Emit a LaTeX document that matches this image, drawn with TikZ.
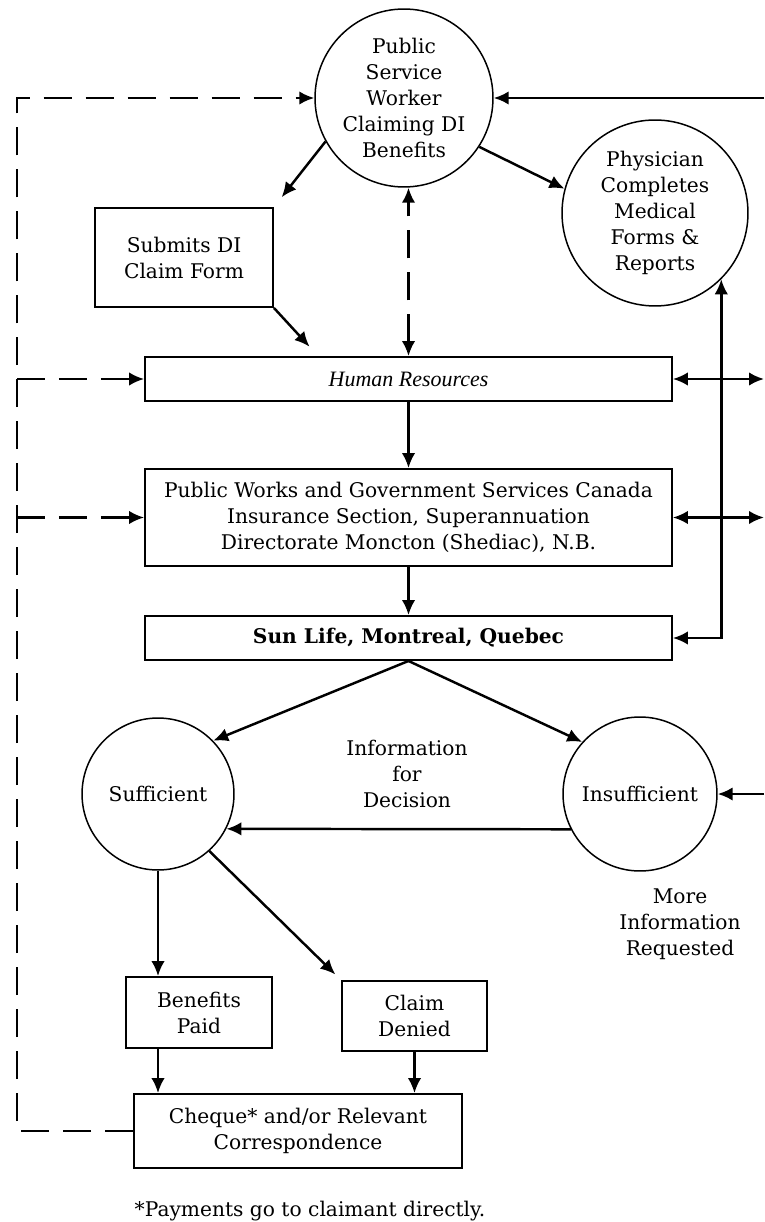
\documentclass[tikz,border=0pt]{standalone}
\usepackage{fontspec}
\setmainfont{DejaVu Serif}
\newfontfamily\hrfont{Liberation Serif}
\usetikzlibrary{arrows.meta}

\begin{document}
\begin{tikzpicture}[x=0.02cm,y=-0.02cm,
  font=\fontsize{11.5pt}{14.8pt}\selectfont,
  box/.style={draw,line width=1.1pt,inner sep=0pt,align=center},
  bubble/.style={draw,circle,line width=0.85pt,inner sep=0pt,align=center},
  flow/.style={line width=1.4pt,-{Latex[length=0.3cm,width=0.27cm]}},
  twoway/.style={line width=1.4pt,{Latex[length=0.3cm,width=0.27cm]}-{Latex[length=0.3cm,width=0.27cm]}},
  feedback/.style={line width=1.4pt,dash pattern=on 0.56cm off 0.28cm}]
\useasboundingbox (0,0) rectangle (764,1222);

% the claimant and the doctor
\node[bubble,minimum size=3.56cm] (worker) at (404,98) {Public\\Service\\Worker\\Claiming DI\\Benefits};
\node[bubble,minimum size=3.72cm] (physician) at (655,213) {Physician\\Completes\\Medical\\Forms \&\\Reports};

% the chain of offices
\node[box,minimum width=3.56cm,minimum height=1.98cm] (submits) at (184,257.5) {Submits DI\\Claim Form};
\node[box,minimum width=10.54cm,minimum height=0.88cm] (hr) at (408.5,379) {{\hrfont\itshape\fontsize{12.5pt}{15pt}\selectfont Human Resources}};
\node[box,minimum width=10.54cm,minimum height=1.94cm] (pwgsc) at (408.5,517.5) {Public Works and Government Services Canada\\Insurance Section, Superannuation\\Directorate Moncton (Shediac), N.B.};
\node[box,minimum width=10.54cm,minimum height=0.88cm] (sunlife) at (408.5,638) {\bfseries Sun Life, Montreal, Quebec};

% the decision
\node[bubble,minimum size=3.04cm] (sufficient) at (158,794) {Sufficient};
\node[bubble,minimum size=3.08cm] (insufficient) at (640,794) {Insufficient};
\node[align=center] (info) at (407,774) {Information\\for\\Decision};
\node[align=center] (moreinfo) at (680,924) {More\\Information\\Requested};
\node[box,minimum width=2.92cm,minimum height=1.42cm] (benefits) at (199,1012.5) {Benefits\\Paid};
\node[box,minimum width=2.9cm,minimum height=1.4cm] (denied) at (414.5,1016) {Claim\\Denied};
\node[box,minimum width=6.56cm,minimum height=1.48cm] (cheque) at (298,1131) {Cheque* and/or Relevant\\Correspondence};
\node (footnote) at (310,1211) {*Payments go to claimant directly.};

\coordinate (ltop) at (17,98);
\coordinate (redge) at (764,0);
\coordinate (hrin) at (319,357);

% dashed return path on the left
\draw[feedback,-{Latex[length=0.3cm,width=0.27cm]}] (cheque.west) -| (ltop) -- (worker.west);
\draw[feedback,-{Latex[length=0.3cm,width=0.27cm]}] (ltop |- hr.west) -- (hr.west);
\draw[feedback,-{Latex[length=0.3cm,width=0.27cm]}] (ltop |- pwgsc.west) -- (pwgsc.west);
\draw[feedback,{Latex[length=0.3cm,width=0.27cm]}-{Latex[length=0.3cm,width=0.27cm]}] (hr.north) -- (hr.north |- worker.south);

% lines coming in from the right
\draw[flow] (redge |- worker.east) -- (worker.east);
\draw[twoway] (hr.east) -- (redge |- hr.east);
\draw[twoway] (pwgsc.east) -- (redge |- pwgsc.east);
\draw[flow] (redge |- insufficient.east) -- (insufficient.east);
\draw[twoway] (physician.-45) |- (sunlife.east);

% main flow
\draw[flow,shorten >=0.25cm] (worker.209) -- (submits.north east);
\draw[flow] (worker.-33) -- (physician.165);
\draw[flow,shorten >=0.28cm] (submits.south east) -- (hrin);
\draw[flow] (hr.south) -- (pwgsc.north);
\draw[flow] (pwgsc.south) -- (sunlife.north);
\draw[flow] (sunlife.south) -- (sufficient.44);
\draw[flow] (sunlife.south) -- (insufficient.138);
\draw[flow] (insufficient.-153) -- (sufficient.-27);
\draw[flow] (sufficient.south) -- (sufficient.south |- benefits.north);
\draw[flow,shorten >=0.16cm] (sufficient.-48) -- (denied.north west);
\draw[flow] (sufficient.south |- benefits.south) -- (sufficient.south |- cheque.north);
\draw[flow] (denied.south) -- (denied.south |- cheque.north);

\end{tikzpicture}
\end{document}
